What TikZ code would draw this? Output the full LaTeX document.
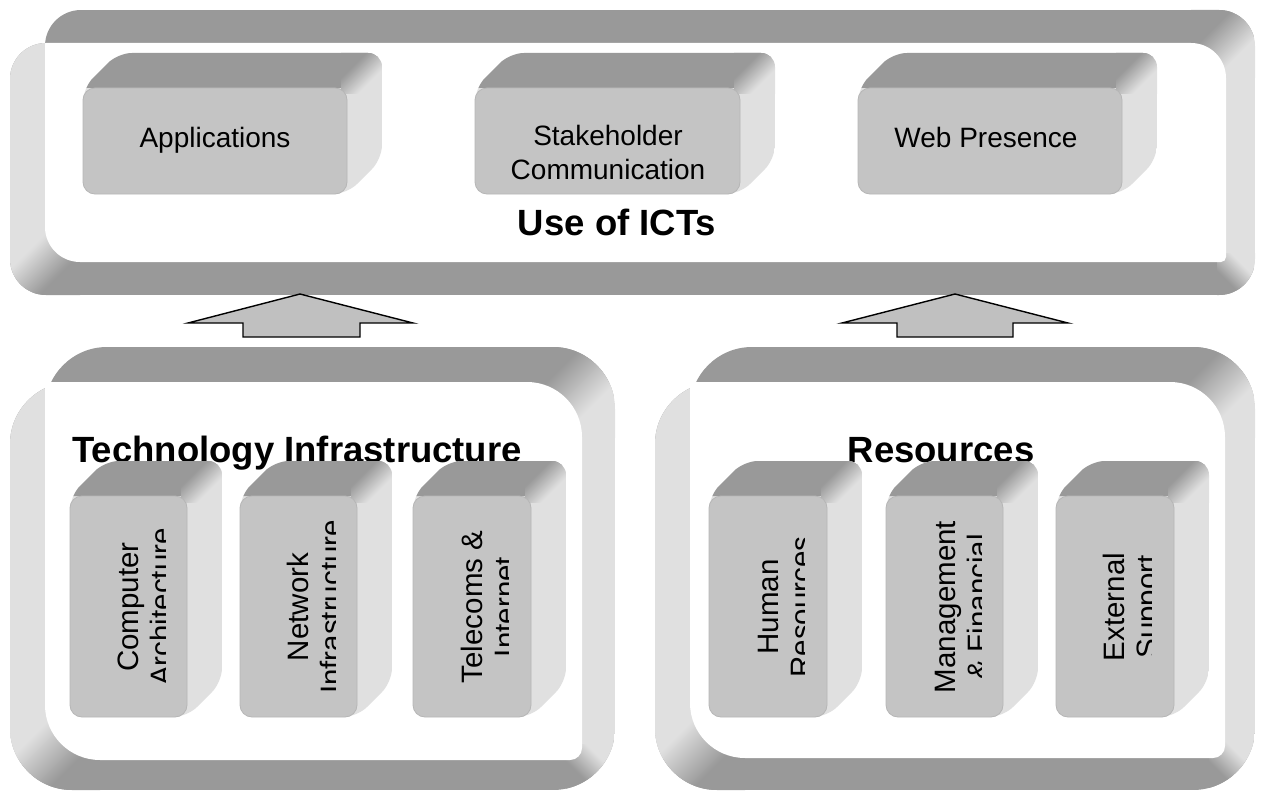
\documentclass[tikz,border=0pt]{standalone}
\usepackage{fontspec}
\setmainfont{Liberation Sans}
\usetikzlibrary{shadings}
\definecolor{sidedark}{HTML}{999999}
\definecolor{sidelight}{HTML}{E0E0E0}
\definecolor{frontgray}{HTML}{C4C4C4}
\definecolor{frontedge}{HTML}{B6B6B6}
\definecolor{arrowgray}{HTML}{C0C0C0}
\pgfdeclarehorizontalshading{ltod}{100bp}{color(0bp)=(sidelight); color(36bp)=(sidelight); color(64bp)=(sidedark); color(100bp)=(sidedark)}
\tikzset{
  lbl/.style={font=\fontsize{28}{33}\selectfont, inner sep=0pt, text=black},
  vlbl/.style={font=\fontsize{29.5}{33}\selectfont, inner sep=0pt, text=black, rotate=90, anchor=base},
  ttl/.style={font=\fontsize{36.5}{40}\selectfont\bfseries, inner sep=0pt, text=black, anchor=base},
  frontbox/.style={fill=frontgray, draw=frontedge, line width=0.8pt, rounded corners=12pt},
  blockarrow/.style={fill=arrowgray, draw=black, line width=1.4pt, line join=miter}
}
% #1 x0, #2 y0, #3 wx0, #4 wy0, #5 wx1, #6 wy1, #7 x1, #8 y1, #9 outer radius
\newcommand{\bigframe}[9]{%
  \begin{scope}
    \clip[rounded corners=#9pt] (#3,#2) rectangle (#7,#8) (#1,#4) rectangle (#7,#8);
    \fill[sidedark] (#1,#2) rectangle (#7,#8);
    \fill[sidelight] (#1,#4) rectangle (#3,#6);
    \fill[sidelight] (#5,#4) rectangle (#7,#6);
    \shade[shading=ltod, shading angle=-45] (#1,{#6-\rin}) rectangle ({#3+\rin},#8);
    \shade[shading=ltod, shading angle=135] ({#5-\rin},#2) rectangle (#7,{#4+\rin});
    \shade[shading=ltod, shading angle=-135] ({#5-\rbr-4},{#6-\rbr-4}) rectangle (#7,#8);
  \end{scope}
  \fill[white] (#3,#4) -- ({#5-\rin},#4)
    .. controls ({#5-0.448*\rin},#4) and (#5,{#4+0.448*\rin}) .. (#5,{#4+\rin})
    -- (#5,{#6-\rbr})
    .. controls (#5,{#6-0.448*\rbr}) and ({#5-0.448*\rbr},#6) .. ({#5-\rbr},#6)
    -- ({#3+\rin},#6)
    .. controls ({#3+0.448*\rin},#6) and (#3,{#6-0.448*\rin}) .. (#3,{#6-\rin})
    -- cycle;
}
% #1 fx0, #2 fy0, #3 fx1, #4 fy1  (front face), depth 35
\newcommand{\cube}[4]{%
  \begin{scope}
    \clip[rounded corners=14pt] (#1,#2) -- ({#1+35},{#2-35}) -- ({#3+35},{#2-35})
      -- ({#3+35},{#4-35}) -- (#3,#4) -- (#1,#4) -- cycle;
    \fill[sidelight] (#1,{#2-35}) rectangle ({#3+35},#4);
    \fill[sidedark] (#1,#2) -- ({#1+35},{#2-35}) -- ({#3+35},{#2-35}) -- (#3,#2) -- cycle;
    \shade[shading=ltod, shading angle=135] ({#3-6},{#2-35}) rectangle ({#3+35},{#2+6});
  \end{scope}
  \path[frontbox] (#1,#2) rectangle (#3,#4);
}
\begin{document}
\begin{tikzpicture}[x=1pt,y=-1pt]
\useasboundingbox (0,0) rectangle (1262,792);

% frames
\def\rin{35}\def\rbr{5}
\bigframe{10}{10}{45}{43}{1226}{262}{1255}{295}{36}
\def\rin{55}\def\rbr{12}
\bigframe{10}{347}{45}{382}{582}{760}{615}{790}{62}
\bigframe{655}{347}{690}{382}{1225}{758}{1255}{790}{62}

% titles
\node[ttl] (useict) at (617,235) {Use of ICTs};
\node[ttl] (techinf) at (297,462) {Technology Infrastructure};
\node[ttl] (resources) at (941,462) {Resources};

% top cubes
\cube{83}{88}{347}{194}
\cube{475}{88}{740}{194}
\cube{858}{88}{1122}{194}
\node[lbl, anchor=base] (app) at (215,147) {Applications};
\node[lbl, anchor=base] (stake1) at (608,146) {Stakeholder};
\node[lbl, anchor=base] (stake2) at (608,179) {Communication};
\node[lbl, anchor=base] (web) at (986,147) {Web Presence};

% bottom cubes
\cube{70}{496}{187}{717}
\cube{240}{496}{357}{717}
\cube{413}{496}{531}{717}
\cube{709}{496}{827}{717}
\cube{886}{496}{1003}{717}
\cube{1056}{496}{1174}{717}

\node[vlbl] (comp1) at (138,607) {Computer};
\begin{scope}\clip (70,490) rectangle (165,720);
\node[vlbl] (comp2) at (171,607) {Architecture};\end{scope}
\node[vlbl] (net1) at (308,607) {Network};
\begin{scope}\clip (240,490) rectangle (335,720);
\node[vlbl] (net2) at (341,607) {Infrastructure};\end{scope}
\node[vlbl] (tel1) at (482,607) {Telecoms \&};
\begin{scope}\clip (413,490) rectangle (508,720);
\node[vlbl] (tel2) at (515,607) {Internet};\end{scope}
\node[vlbl] (hum1) at (778,607) {Human};
\begin{scope}\clip (709,490) rectangle (804,720);
\node[vlbl] (hum2) at (811,607) {Resources};\end{scope}
\node[vlbl] (man1) at (955,607) {Management};
\begin{scope}\clip (886,490) rectangle (981,720);
\node[vlbl] (man2) at (988,607) {\& Financial};\end{scope}
\node[vlbl] (ext1) at (1124,607) {External};
\begin{scope}\clip (1056,490) rectangle (1151,720);
\node[vlbl] (ext2) at (1157,607) {Support};\end{scope}

% block arrows
\draw[blockarrow] (188,323) -- (300,294) -- (413,323) -- (360,323) -- (360,337) -- (243,337) -- (243,323) -- cycle;
\draw[blockarrow] (842,323) -- (955,294) -- (1068,323) -- (1013,323) -- (1013,337) -- (897,337) -- (897,323) -- cycle;
\end{tikzpicture}
\end{document}
